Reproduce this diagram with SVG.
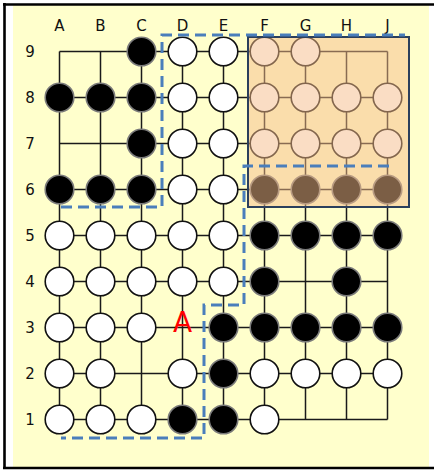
<svg xmlns="http://www.w3.org/2000/svg" width="434" height="470" viewBox="0 0 434 470">
<style>
.lbl{font-family:"DejaVu Sans",sans-serif;font-size:15px;fill:#111;text-anchor:middle}
.g{stroke:#1a1a1a;stroke-width:1.5;fill:none}
.w{fill:#fff;stroke:#111;stroke-width:1.6}
.b{fill:#000;stroke:#7a7a7a;stroke-width:1.6}
.dash{fill:none;stroke:#4a7ebb;stroke-width:3;stroke-dasharray:11 6}
</style>
<rect x="0" y="0" width="434" height="470" fill="#fff"/>
<rect x="13" y="5" width="416" height="462" fill="#ffffcc"/>
<path d="M3,4.5H434M4.5,3V469M3,468H434" stroke="#000" stroke-width="2.6" fill="none"/>
<g id="labels">
<text class="lbl" x="59.5" y="30.5">A</text>
<text class="lbl" x="100.5" y="30.5">B</text>
<text class="lbl" x="141.5" y="30.5">C</text>
<text class="lbl" x="182.5" y="30.5">D</text>
<text class="lbl" x="223.5" y="30.5">E</text>
<text class="lbl" x="264.5" y="30.5">F</text>
<text class="lbl" x="305.5" y="30.5">G</text>
<text class="lbl" x="346.5" y="30.5">H</text>
<text class="lbl" x="387.5" y="30.5">J</text>
<text class="lbl" x="30" y="57">9</text>
<text class="lbl" x="30" y="103">8</text>
<text class="lbl" x="30" y="149">7</text>
<text class="lbl" x="30" y="195">6</text>
<text class="lbl" x="30" y="241">5</text>
<text class="lbl" x="30" y="287">4</text>
<text class="lbl" x="30" y="333">3</text>
<text class="lbl" x="30" y="379">2</text>
<text class="lbl" x="30" y="425">1</text>
</g>
<g id="grid">
<path class="g" d="M59.5,51.5H387.5M59.5,97.5H387.5M59.5,143.5H387.5M59.5,189.5H387.5M59.5,235.5H387.5M59.5,281.5H387.5M59.5,327.5H387.5M59.5,373.5H387.5M59.5,419.5H387.5"/>
<path class="g" d="M59.5,51.5V419.5M100.5,51.5V419.5M141.5,51.5V419.5M182.5,51.5V419.5M223.5,51.5V419.5M264.5,51.5V419.5M305.5,51.5V419.5M346.5,51.5V419.5M387.5,51.5V419.5"/>
</g>
<g id="stones">
<circle class="b" cx="141.5" cy="51.5" r="14.3"/>
<circle class="w" cx="182.5" cy="51.5" r="14.3"/>
<circle class="w" cx="223.5" cy="51.5" r="14.3"/>
<circle class="w" cx="264.5" cy="51.5" r="14.3"/>
<circle class="w" cx="305.5" cy="51.5" r="14.3"/>
<circle class="b" cx="59.5" cy="97.5" r="14.3"/>
<circle class="b" cx="100.5" cy="97.5" r="14.3"/>
<circle class="b" cx="141.5" cy="97.5" r="14.3"/>
<circle class="w" cx="182.5" cy="97.5" r="14.3"/>
<circle class="w" cx="223.5" cy="97.5" r="14.3"/>
<circle class="w" cx="264.5" cy="97.5" r="14.3"/>
<circle class="w" cx="305.5" cy="97.5" r="14.3"/>
<circle class="w" cx="346.5" cy="97.5" r="14.3"/>
<circle class="w" cx="387.5" cy="97.5" r="14.3"/>
<circle class="b" cx="141.5" cy="143.5" r="14.3"/>
<circle class="w" cx="182.5" cy="143.5" r="14.3"/>
<circle class="w" cx="223.5" cy="143.5" r="14.3"/>
<circle class="w" cx="264.5" cy="143.5" r="14.3"/>
<circle class="w" cx="305.5" cy="143.5" r="14.3"/>
<circle class="w" cx="346.5" cy="143.5" r="14.3"/>
<circle class="w" cx="387.5" cy="143.5" r="14.3"/>
<circle class="b" cx="59.5" cy="189.5" r="14.3"/>
<circle class="b" cx="100.5" cy="189.5" r="14.3"/>
<circle class="b" cx="141.5" cy="189.5" r="14.3"/>
<circle class="w" cx="182.5" cy="189.5" r="14.3"/>
<circle class="w" cx="223.5" cy="189.5" r="14.3"/>
<circle class="b" cx="264.5" cy="189.5" r="14.3"/>
<circle class="b" cx="305.5" cy="189.5" r="14.3"/>
<circle class="b" cx="346.5" cy="189.5" r="14.3"/>
<circle class="b" cx="387.5" cy="189.5" r="14.3"/>
<circle class="w" cx="59.5" cy="235.5" r="14.3"/>
<circle class="w" cx="100.5" cy="235.5" r="14.3"/>
<circle class="w" cx="141.5" cy="235.5" r="14.3"/>
<circle class="w" cx="182.5" cy="235.5" r="14.3"/>
<circle class="w" cx="223.5" cy="235.5" r="14.3"/>
<circle class="b" cx="264.5" cy="235.5" r="14.3"/>
<circle class="b" cx="305.5" cy="235.5" r="14.3"/>
<circle class="b" cx="346.5" cy="235.5" r="14.3"/>
<circle class="b" cx="387.5" cy="235.5" r="14.3"/>
<circle class="w" cx="59.5" cy="281.5" r="14.3"/>
<circle class="w" cx="100.5" cy="281.5" r="14.3"/>
<circle class="w" cx="141.5" cy="281.5" r="14.3"/>
<circle class="w" cx="182.5" cy="281.5" r="14.3"/>
<circle class="w" cx="223.5" cy="281.5" r="14.3"/>
<circle class="b" cx="264.5" cy="281.5" r="14.3"/>
<circle class="b" cx="346.5" cy="281.5" r="14.3"/>
<circle class="w" cx="59.5" cy="327.5" r="14.3"/>
<circle class="w" cx="100.5" cy="327.5" r="14.3"/>
<circle class="w" cx="141.5" cy="327.5" r="14.3"/>
<circle class="b" cx="223.5" cy="327.5" r="14.3"/>
<circle class="b" cx="264.5" cy="327.5" r="14.3"/>
<circle class="b" cx="305.5" cy="327.5" r="14.3"/>
<circle class="b" cx="346.5" cy="327.5" r="14.3"/>
<circle class="b" cx="387.5" cy="327.5" r="14.3"/>
<circle class="w" cx="59.5" cy="373.5" r="14.3"/>
<circle class="w" cx="100.5" cy="373.5" r="14.3"/>
<circle class="w" cx="182.5" cy="373.5" r="14.3"/>
<circle class="b" cx="223.5" cy="373.5" r="14.3"/>
<circle class="w" cx="264.5" cy="373.5" r="14.3"/>
<circle class="w" cx="305.5" cy="373.5" r="14.3"/>
<circle class="w" cx="346.5" cy="373.5" r="14.3"/>
<circle class="w" cx="387.5" cy="373.5" r="14.3"/>
<circle class="w" cx="59.5" cy="419.5" r="14.3"/>
<circle class="w" cx="100.5" cy="419.5" r="14.3"/>
<circle class="w" cx="141.5" cy="419.5" r="14.3"/>
<circle class="b" cx="182.5" cy="419.5" r="14.3"/>
<circle class="b" cx="223.5" cy="419.5" r="14.3"/>
<circle class="w" cx="264.5" cy="419.5" r="14.3"/>
</g>
<g id="mark">
<text x="182.5" y="332" font-family="DejaVu Sans, sans-serif" font-size="28" fill="#ff0000" text-anchor="middle">A</text>
</g>
<g id="region">
<rect x="248" y="37" width="161" height="170" fill="#f6bc8a" fill-opacity="0.5" stroke="none"/>
<rect x="248" y="37" width="161" height="170" fill="none" stroke="#2b3f5c" stroke-width="2"/>
</g>
<g id="connectors">
<path class="dash" d="M61,207H162V35H405"/>
<path class="dash" d="M389,166H244V305H204V438H61"/>
</g>
</svg>
